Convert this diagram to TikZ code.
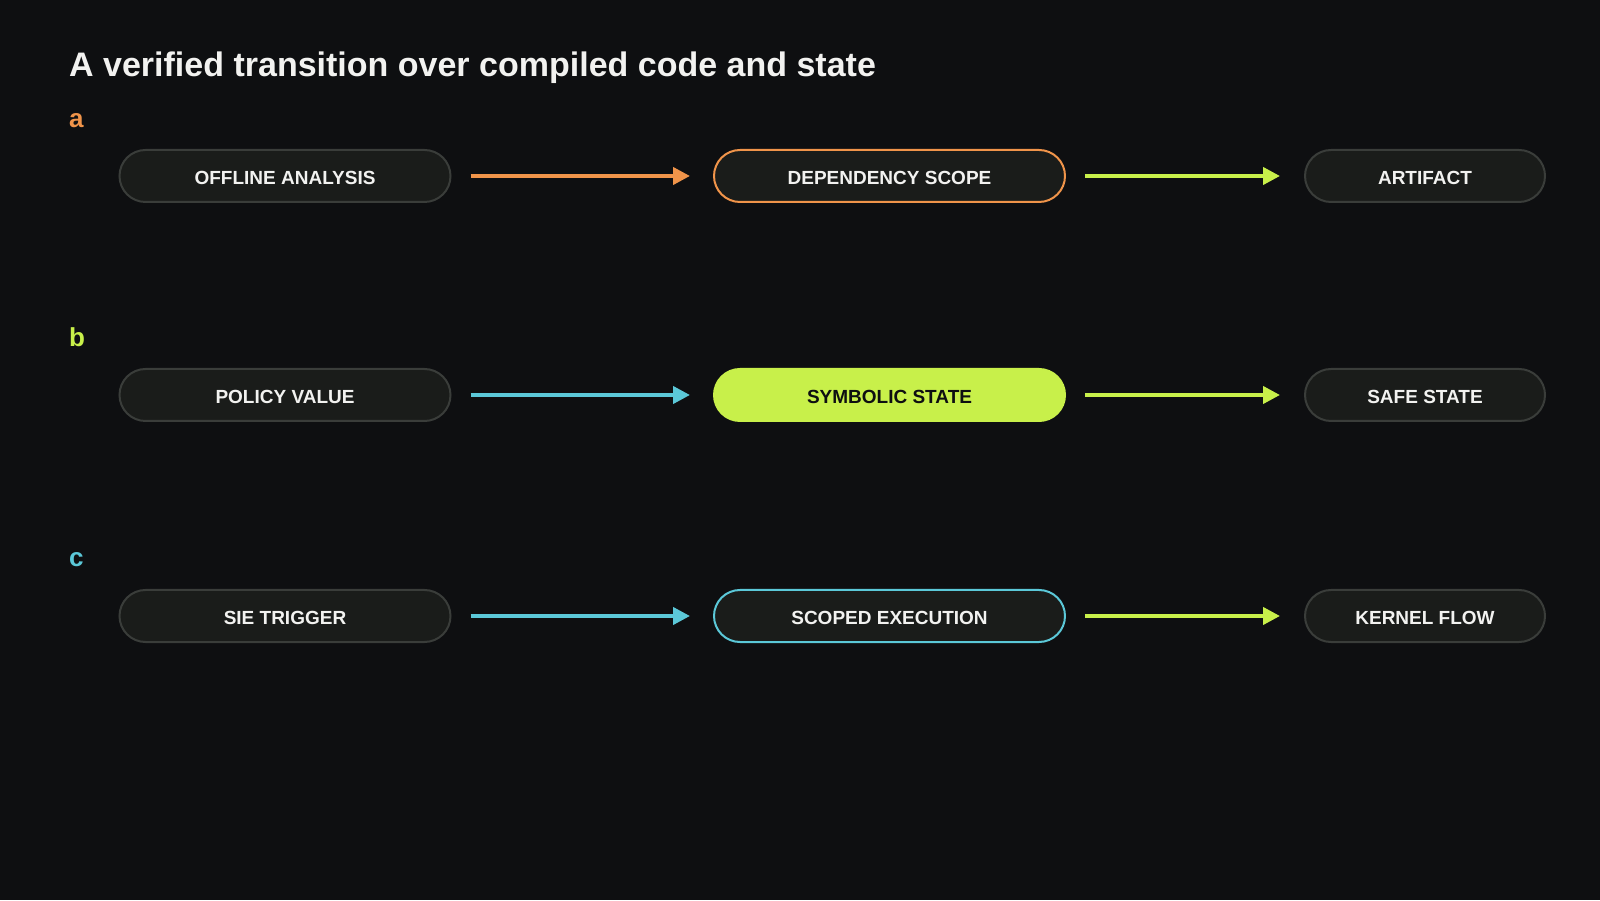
\documentclass[tikz,border=0pt]{standalone}
\usepackage{fontspec}
\setmainfont{Liberation Sans}
\usetikzlibrary{arrows.meta}
\definecolor{bg}{HTML}{0E0F11}
\definecolor{boxfill}{HTML}{1A1C1A}
\definecolor{boxline}{HTML}{3A3D3A}
\definecolor{orng}{HTML}{F0944A}
\definecolor{lime}{HTML}{C8F04A}
\definecolor{cyan}{HTML}{5BC8D8}
\definecolor{txt}{HTML}{F2F2F0}
\tikzset{
  pill/.style={draw=boxline, fill=boxfill, line width=2pt, rounded corners=26pt,
    minimum height=52pt, inner sep=0pt, text height=17pt, text depth=0pt,
    text=txt, font=\fontsize{19}{19}\selectfont\bfseries},
  link/.style={line width=4pt, -{Triangle[length=17pt,width=17pt]}},
  rowlabel/.style={anchor=west, font=\fontsize{26}{26}\selectfont\bfseries, inner sep=0pt}
}
\begin{document}
\begin{tikzpicture}[x=1pt,y=1pt]
\fill[bg] (0,0) rectangle (1600,900);
\useasboundingbox (0,0) rectangle (1600,900);
\node[anchor=west, text=txt, font=\fontsize{34}{34}\selectfont\bfseries, inner sep=0pt] (title) at (69,832) {A verified transition over compiled code and state};
% row a
\node[rowlabel, text=orng] (la) at (69,779) {a};
\node[pill, minimum width=331pt] (a1) at (285,724) {OFFLINE ANALYSIS};
\node[pill, minimum width=351pt, draw=orng] (a2) at (889.5,724) {DEPENDENCY SCOPE};
\node[pill, minimum width=240pt] (a3) at (1425,724) {ARTIFACT};
% row b
\node[rowlabel, text=lime] (lb) at (69,563) {b};
\node[pill, minimum width=331pt] (b1) at (285,505) {POLICY VALUE};
\node[pill, minimum width=351pt, draw=lime, fill=lime, text=bg] (b2) at (889.5,505) {SYMBOLIC STATE};
\node[pill, minimum width=240pt] (b3) at (1425,505) {SAFE STATE};
% row c
\node[rowlabel, text=cyan] (lc) at (69,340) {c};
\node[pill, minimum width=331pt] (c1) at (285,284) {SIE TRIGGER};
\node[pill, minimum width=351pt, draw=cyan] (c2) at (889.5,284) {SCOPED EXECUTION};
\node[pill, minimum width=240pt] (c3) at (1425,284) {KERNEL FLOW};
% arrows
\draw[link, orng] ([xshift=19pt]a1.east) -- ([xshift=-23pt]a2.west);
\draw[link, lime] ([xshift=19pt]a2.east) -- ([xshift=-24pt]a3.west);
\draw[link, cyan] ([xshift=19pt]b1.east) -- ([xshift=-23pt]b2.west);
\draw[link, lime] ([xshift=19pt]b2.east) -- ([xshift=-24pt]b3.west);
\draw[link, cyan] ([xshift=19pt]c1.east) -- ([xshift=-23pt]c2.west);
\draw[link, lime] ([xshift=19pt]c2.east) -- ([xshift=-24pt]c3.west);
\end{tikzpicture}
\end{document}
